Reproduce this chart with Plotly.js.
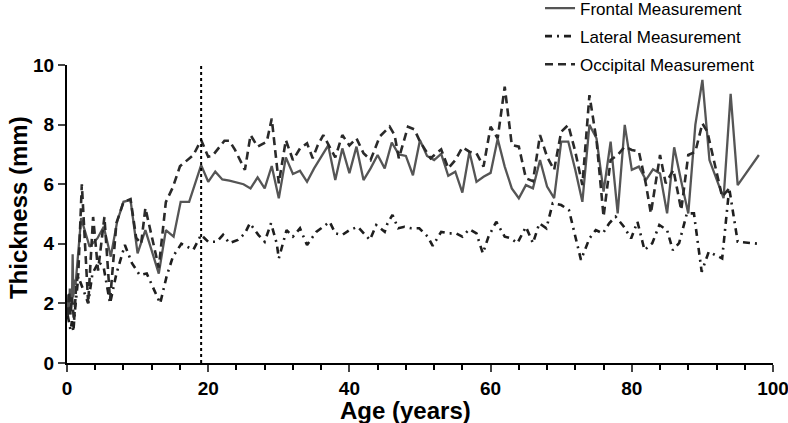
<!DOCTYPE html>
<html>
<head>
<meta charset="utf-8">
<script src="https://cdn.plot.ly/plotly-3.0.1.min.js"></script>
<style>html,body{margin:0;padding:0;background:#fff}#chart{width:788px;height:423px}</style>
</head>
<body>
<div id="chart"></div>
<script>
// Frontal measurement (solid)
const frontalAge = [0.1,0.2,0.3,0.4,0.5,0.6,0.7,0.8,0.9,1.0,1.2,2,3.2,4.3,5.2,6.2,7.1,8,9,10,11.1,12,13,14,15.1,16.1,17.3,19,20,21,22,23,25,26,27,28,29,30,31,32,33,34,35,37,38,39,40,41,42,43,44,45,46,47,48,49,50,51,52,53,54,55,56,57,58,59,60,61,62,63,64,65,66,67,68,69,70,71,72,73,74,75,76,77,78,79,80,81,82,83,84,85,86,87,88,89,90,91,92,93,94,95,98];
const frontalVal = [1.5,2.3,1.7,2.5,1.8,2.4,2.0,3.65,2.2,2.8,2.6,4.86,3.9,4.18,4.57,3.57,4.74,5.41,5.47,3.68,4.46,3.79,3.0,4.46,4.24,5.41,5.41,6.64,6.08,6.42,6.16,6.12,6.0,5.86,6.23,5.86,6.61,5.53,6.9,6.34,6.45,6.08,6.53,7.3,6.14,7.2,6.37,7.26,6.14,6.53,6.98,6.53,7.4,7.0,6.95,6.3,7.48,6.95,6.81,7.02,6.28,6.42,5.72,7.09,6.08,6.25,6.38,7.52,6.59,5.86,5.53,5.97,5.86,6.81,5.92,5.53,7.43,7.43,6.48,5.41,7.99,7.54,5.75,7.43,5.02,7.99,6.48,6.59,6.14,6.5,6.36,5.02,7.24,6.1,5.02,7.99,9.5,6.81,6.2,5.53,9.03,5.97,6.98];

// Lateral measurement (dash-dot)
const lateralAge = [0.1,0.3,0.5,0.7,0.9,1.1,1.6,2.4,3,3.6,4.5,5.2,6.1,7,8.2,9.2,10.3,11.3,12.4,13.2,14.1,15,16.2,17.9,19,20,21.2,22.1,23,24.2,25.2,25.9,27.1,28,28.9,29.7,30,31.1,32,33,34,35.3,36,37.2,38,39,40,41.2,42.9,43.8,45,45.4,46.1,46.9,47.8,48.8,49.9,51.1,51.8,53,54.1,55.1,56,57,58,58.9,59.7,60.8,62,62.9,63.8,65,66,66.9,67.9,68.8,70,71.1,72.8,74,74.9,75.9,76.8,77.7,78.8,79.9,80.8,81.8,82.9,83.9,85,85.8,86.7,87.8,88.8,89.9,90.9,92.8,93.8,95,98];
const lateralVal = [1.6,1.3,1.1,1.4,1.05,1.7,2.9,2.4,2.0,3.0,3.4,3.2,2.0,3.0,3.96,3.35,2.95,3.0,2.45,2.0,2.9,3.57,4.0,3.8,4.3,4.07,4.07,4.3,4.02,4.13,4.35,4.69,4.3,4.07,4.69,4.02,3.51,4.46,4.24,4.52,3.96,4.4,4.52,4.74,4.35,4.3,4.46,4.57,4.13,4.63,4.4,4.69,4.97,4.52,4.57,4.52,4.52,4.24,3.93,4.4,4.35,4.35,4.24,4.49,4.35,3.68,4.24,4.74,4.24,4.18,4.02,4.57,4.02,4.69,4.52,5.36,5.3,5.13,3.46,4.18,4.46,4.35,4.69,4.91,4.6,4.18,4.74,3.79,4.02,4.63,4.46,3.79,4.02,5.02,5.02,3.06,3.73,3.51,5.86,4.07,4.0];

// Occipital measurement (dashed)
const occipitalAge = [0.1,0.3,0.5,0.7,1.0,1.3,1.6,2.1,3.0,3.7,4.4,5.3,6.1,7,8,9,9.8,10.5,11.1,12,13,14,15,16,17,17.9,19,20,20.6,21.4,22.3,23,23.8,25.2,26,27,28.3,29,30,31,32,33,34,34.8,35.5,36.3,37.4,38,39,40,41,42,43,44.3,45.7,46.4,47,48.3,49.2,50,51.5,53,54,55,56,57,58,59,60,61,62,63,64,65,66,67,68,69,70,71,72,73,74,75,76,77,78,79,80,81,82,82.7,84,84.8,85.9,87,88,89,90,90.7,92.8,93.8];
const occipitalVal = [1.6,2.4,1.6,2.2,1.4,2.6,3.0,6.0,2.0,4.9,3.1,4.9,2.1,4.7,5.4,5.5,4.2,4.0,5.2,4.2,3.2,5.4,5.9,6.6,6.8,6.98,7.48,6.92,6.95,7.2,7.46,7.46,7.15,6.48,7.65,7.26,7.43,8.2,6.03,7.48,6.81,7.2,7.37,6.87,7.3,7.65,7.15,6.9,7.65,7.3,7.54,7.04,6.81,7.6,7.93,7.65,6.87,7.93,7.84,7.43,6.87,7.17,6.53,6.81,7.24,7.09,7.04,6.59,7.93,7.54,9.27,7.32,7.26,6.2,6.1,7.65,6.92,6.48,7.76,7.99,7.09,5.97,8.99,7.48,4.91,6.81,6.98,7.26,7.15,7.1,6.0,5.02,6.98,6.03,6.48,5.13,6.98,7.09,8.04,7.76,5.58,5.86];

const markerAge = 19;
const xTitle = 'Age (years)';
const yTitle = 'Thickness (mm)';

const traces = [
  {x: frontalAge, y: frontalVal, name: 'Frontal Measurement', legendgroup: 'f', mode: 'lines', type: 'scatter',
   line: {color: '#555555', width: 2.3, dash: 'solid'}},
  {x: lateralAge, y: lateralVal, name: 'Lateral Measurement', legendgroup: 'l', mode: 'lines', type: 'scatter',
   line: {color: '#1e1e1e', width: 2.6, dash: '7px,5px,2px,5px'}},
  {x: occipitalAge, y: occipitalVal, name: 'Occipital Measurement', legendgroup: 'o', mode: 'lines', type: 'scatter',
   line: {color: '#2a2a2a', width: 2.6, dash: '8px,5px'}}
];

const fam = 'Liberation Sans, Arial, sans-serif';
const layout = {
  width: 788, height: 423,
  margin: {l: 67, r: 15, t: 65, b: 60, autoexpand: false},
  paper_bgcolor: '#fff', plot_bgcolor: '#fff',
  font: {family: fam, color: '#000'},
  showlegend: true,
  legend: {x: 0.67, xanchor: 'left', y: 1.25, yanchor: 'top', bgcolor: 'rgba(0,0,0,0)',
           traceorder: 'grouped', tracegroupgap: 3,
           font: {size: 17, color: '#000'}, borderwidth: 0},
  xaxis: {range: [0, 100], tickvals: [0,20,40,60,80,100], ticks: 'outside', ticklen: 7, tickwidth: 2,
          showline: true, linewidth: 2, linecolor: '#000', showgrid: false, zeroline: false,
          ticklabeloverflow: 'allow',
          tickfont: {size: 19, family: fam, weight: 'bold'},
          minor: {dtick: 4, tick0: 0, ticks: 'outside', ticklen: 5, tickwidth: 2, tickcolor: '#000', showgrid: false}},
  yaxis: {range: [0, 10], tickvals: [0,2,4,6,8,10], ticks: 'outside', ticklen: 7, tickwidth: 2,
          showline: true, linewidth: 2, linecolor: '#000', showgrid: false, zeroline: false,
          ticklabeloverflow: 'allow',
          tickfont: {size: 19, family: fam, weight: 'bold'}},
  annotations: [
    {text: '<b>' + xTitle + '</b>', xref: 'paper', yref: 'paper', x: 0.48, y: -0.161,
     xanchor: 'center', yanchor: 'middle', showarrow: false, font: {size: 24, family: fam, color: '#000'}},
    {text: '<b>' + yTitle + '</b>', xref: 'paper', yref: 'paper', x: -0.0694, y: 0.52, textangle: -90,
     xanchor: 'center', yanchor: 'middle', showarrow: false, font: {size: 24, family: fam, color: '#000'}}
  ],
  shapes: [{type: 'line', xref: 'x', yref: 'y', x0: markerAge, x1: markerAge, y0: 0, y1: 10,
            line: {color: '#000', width: 2, dash: 'dot'}}]
};

Plotly.newPlot('chart', traces, layout, {displayModeBar: false, staticPlot: true});
</script>
</body>
</html>
